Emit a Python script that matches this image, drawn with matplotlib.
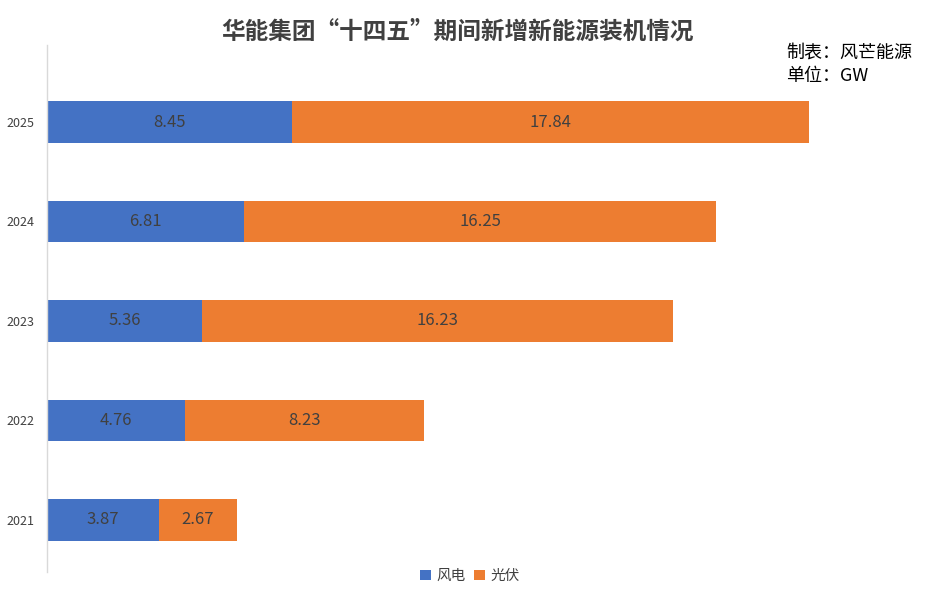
import matplotlib
matplotlib.use("Agg")
import matplotlib.pyplot as plt
from matplotlib.patches import Patch

plt.rcParams['font.family'] = ['Noto Sans CJK SC', 'DejaVu Sans']

years = ["2021", "2022", "2023", "2024", "2025"]
wind = [3.87, 4.76, 5.36, 6.81, 8.45]
solar = [2.67, 8.23, 16.23, 16.25, 17.84]

BLUE = "#4472C4"
ORANGE = "#ED7D31"
TXT = "#404040"

fig = plt.figure(figsize=(9.28, 6.06), dpi=100)
ax = fig.add_axes([47 / 928, 34 / 606, 870 / 928, 527 / 606])

pos = list(range(len(years)))
ax.barh(pos, wind, height=0.42, color=BLUE, label="风电")
ax.barh(pos, solar, left=wind, height=0.42, color=ORANGE, label="光伏")

for i in pos:
    ax.text(wind[i] / 2, i, f"{wind[i]:.2f}", ha="center", va="center",
            fontsize=12, color=TXT)
    ax.text(wind[i] + solar[i] / 2, i, f"{solar[i]:.2f}", ha="center", va="center",
            fontsize=12, color=TXT)

ax.set_xlim(0, 30)
ax.set_ylim(-0.523, 4.774)
ax.set_yticks(pos)
ax.set_yticklabels(years, fontsize=9, color=TXT)
ax.tick_params(axis="y", length=0, pad=9)
ax.set_xticks([])
for s in ["top", "right", "bottom"]:
    ax.spines[s].set_visible(False)
ax.spines["left"].set_color("#d9d9d9")
ax.spines["left"].set_linewidth(1)

fig.text(458 / 928, 1 - 32 / 606, "华能集团“十四五”期间新增新能源装机情况",
         ha="center", va="center", fontsize=17, fontweight="bold", color=TXT)
fig.text(786 / 928, 1 - 53 / 606, "制表：风芒能源", ha="left", va="center",
         fontsize=13, color="black")
fig.text(786 / 928, 1 - 76 / 606, "单位：GW", ha="left", va="center",
         fontsize=13, color="black")

handles = [Patch(facecolor=BLUE, label="风电"), Patch(facecolor=ORANGE, label="光伏")]
fig.legend(handles=handles, loc="center", bbox_to_anchor=(470 / 928, 1 - 576 / 606),
           ncol=2, frameon=False, fontsize=10.5, handlelength=0.7, handleheight=0.7,
           handletextpad=0.4, columnspacing=0.6, labelcolor=TXT)

fig.savefig("out.png", dpi=100, facecolor="white")
